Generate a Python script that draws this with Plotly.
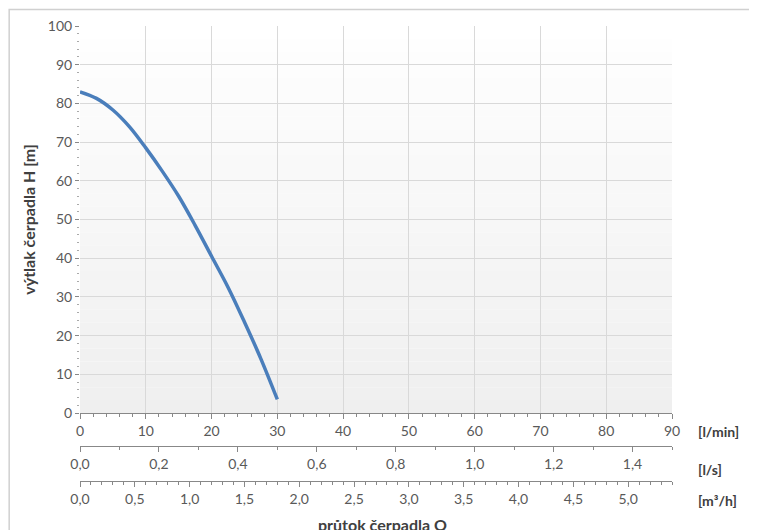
import plotly.graph_objects as go

q_lmin = [0, 2.5, 5, 7.5, 10, 12.5, 15, 17.5, 20, 22.5, 25, 27.5, 30]
head_m = [83, 81.3, 78.3, 74, 68.5, 62.5, 56, 48.5, 40.5, 32.5, 23.5, 14, 3.5]

W, H = 757, 530
ml, mr, mt, mb = 72, 93, 18, 15
ph = H - mt - mb
pw = W - ml - mr
ybot = (H - mb - 405) / ph
pos2 = (H - mb - 438) / ph
pos3 = (H - mb - 473) / ph

fig = go.Figure()
fig.add_trace(go.Scatter(x=q_lmin, y=head_m, mode="lines", line=dict(color="#4a7ebb", width=3.5, shape="spline"),
                         showlegend=False))
fig.add_trace(go.Scatter(x=[0, 1.5], y=[None, None], xaxis="x2", yaxis="y", showlegend=False))
fig.add_trace(go.Scatter(x=[0, 5.4], y=[None, None], xaxis="x3", yaxis="y", showlegend=False))

font = dict(family="Lato, Open Sans, sans-serif", size=14, color="#595959")
shapes = []
n = 30
for i in range(n):
    t = i / n
    g = int(255 - 16 * t)
    shapes.append(dict(type="rect", xref="x", yref="y", x0=0, x1=90, y0=100 - (i + 1) * 100 / n, y1=100 - i * 100 / n,
                       fillcolor=f"rgb({g},{g},{g})", line=dict(width=0), layer="below"))
shapes.append(dict(type="rect", xref="paper", yref="paper", x0=-ml / pw + 0.002, x1=1 + mr / pw - 0.003,
                   y0=-mb / ph + 0.003, y1=1 + mt / ph - 0.003, line=dict(color="#d0d0d0", width=1.5)))

tk = dict(showline=True, linecolor="#888", ticks="outside", ticklen=5, tickcolor="#888", zeroline=False,
          automargin=False)
fig.update_layout(
    width=W, height=H, margin=dict(l=ml, r=mr, t=mt, b=mb),
    paper_bgcolor="white", plot_bgcolor="white", font=font, shapes=shapes,
    xaxis=dict(range=[0, 90], domain=[0, 1], anchor="y", dtick=10, showgrid=True, gridcolor="#d9d9d9",
               minor=dict(dtick=2, ticks="outside", ticklen=3, tickcolor="#888"), **tk),
    xaxis2=dict(range=[0, 1.5], overlaying="x", anchor="free", position=pos2, dtick=0.2, tickformat=".1f",
                showgrid=False, minor=dict(dtick=0.1, ticks="outside", ticklen=3, tickcolor="#888"), **tk),
    xaxis3=dict(range=[0, 5.4], overlaying="x", anchor="free", position=pos3, dtick=0.5, tickformat=".1f",
                showgrid=False, minor=dict(dtick=0.1, ticks="outside", ticklen=3, tickcolor="#888"), **tk),
    yaxis=dict(range=[0, 100], domain=[ybot, 1], dtick=10, showgrid=True, gridcolor="#d9d9d9",
               showline=False, ticks="outside", ticklen=4, tickcolor="#888", automargin=False,
               minor=dict(dtick=2, ticks="outside", ticklen=2, tickcolor="#aaa"), zeroline=False,
               title=dict(text="<b>výtlak čerpadla H [m]</b>", font=dict(size=16, color="#404040"),
                          standoff=8)),
    separators=", ",
)
for txt, yy in [("[l/min]", 423), ("[l/s]", 461), ("[m³/h]", 492)]:
    fig.add_annotation(text=f"<b>{txt}</b>", xref="paper", yref="paper", x=(688 - ml) / pw, xanchor="left",
                       y=(H - mb - yy) / ph, yanchor="middle", showarrow=False, font=dict(size=14, color="#404040"))
fig.add_annotation(text="<b>průtok čerpadla Q</b>", xref="paper", yref="paper", x=(374 - ml) / pw, xanchor="center",
                   y=(H - mb - 516) / ph, yanchor="middle", showarrow=False, font=dict(size=16, color="#404040"))
fig.write_html("out.html")
